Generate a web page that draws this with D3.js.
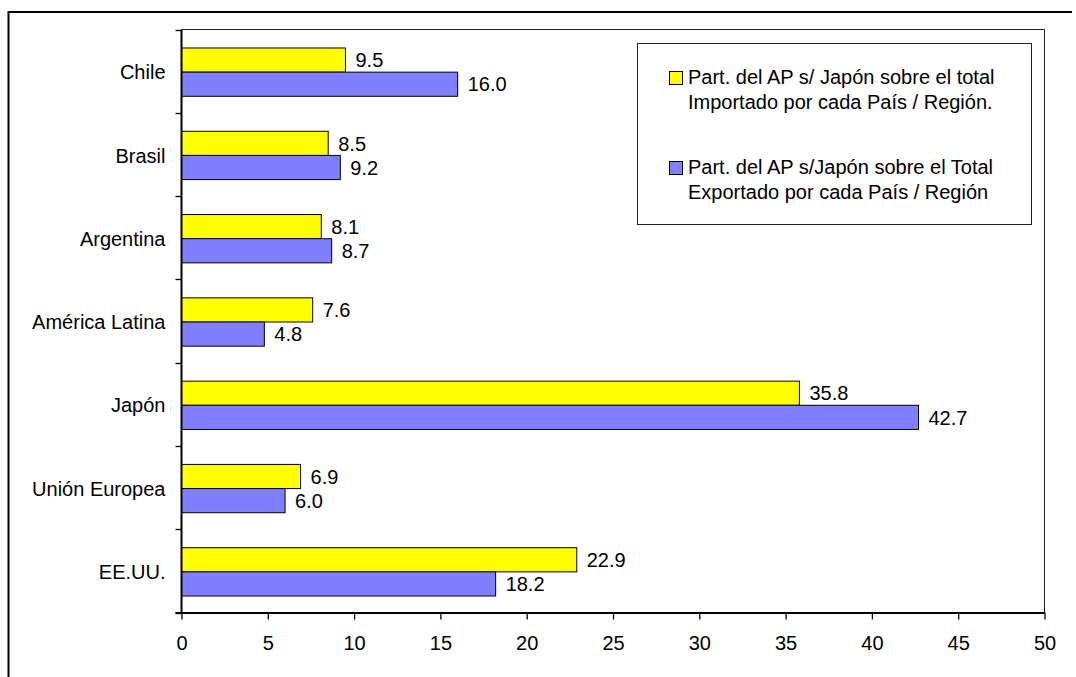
<!DOCTYPE html>
<html>
<head>
<meta charset="utf-8">
<script src="https://cdn.jsdelivr.net/npm/d3@7"></script>
<style>
  html, body { margin: 0; padding: 0; background: #fff; }
  svg { display: block; }
  text { font-family: "Liberation Sans", Arial, sans-serif; fill: #000; }
</style>
</head>
<body>
<script>
// Categories (top to bottom) and the two series, in percent
const categories = ["Chile", "Brasil", "Argentina", "América Latina", "Japón", "Unión Europea", "EE.UU."];
const importado = [9.5, 8.5, 8.1, 7.6, 35.8, 6.9, 22.9];
const exportado = [16.0, 9.2, 8.7, 4.8, 42.7, 6.0, 18.2];
const xTicks = [0, 5, 10, 15, 20, 25, 30, 35, 40, 45, 50];
const seriesNames = [
  ["Part. del AP s/ Japón sobre el total", "Importado por cada País / Región."],
  ["Part. del AP s/Japón sobre el Total", "Exportado por cada País / Región"]
];
const seriesKeys = ["imp", "exp"];
const colors = { imp: "#FFFF00", exp: "#8080FF" };

const W = 1076, H = 677;
const FS = 20;
const plot = { left: 181.5, right: 1044.5, top: 29.5, bottom: 612.5 };

const rows = categories.map((c, i) => ({ cat: c, imp: importado[i], exp: exportado[i] }));

const svg = d3.select("body").append("svg").attr("width", W).attr("height", H);

// Outer frame (open on the right/bottom where the page ends)
svg.append("path")
  .attr("d", `M1072,12 H8.5 V${H + 5}`)
  .attr("fill", "none").attr("stroke", "#000").attr("stroke-width", 2);

const x = d3.scaleLinear().domain([0, 50]).range([plot.left, plot.right]);
const y = d3.scaleBand().domain(categories).range([plot.top, plot.bottom]).paddingInner(0).paddingOuter(0);
const bandH = y.bandwidth();
const barH = bandH * 0.29;

// Plot area top and right border
svg.append("path")
  .attr("d", `M${plot.left},${plot.top} H${plot.right} V${plot.bottom}`)
  .attr("fill", "none").attr("stroke", "#222").attr("stroke-width", 1);

// Bars
const groups = svg.append("g").selectAll("g").data(rows).join("g")
  .attr("transform", d => `translate(0,${y(d.cat) + bandH / 2 - barH + 1})`);

seriesKeys.forEach((k, si) => {
  groups.append("rect")
    .attr("x", x(0))
    .attr("y", si * barH)
    .attr("width", d => x(d[k]) - x(0))
    .attr("height", barH)
    .attr("fill", colors[k])
    .attr("stroke", "#000").attr("stroke-width", 1);

  groups.append("text")
    .attr("x", d => x(d[k]) + 10)
    .attr("y", si * barH + barH / 2)
    .attr("dy", "0.36em")
    .attr("font-size", FS)
    .text(d => d[k].toFixed(1));
});

// X axis
const xAxis = svg.append("g")
  .attr("transform", `translate(0,${plot.bottom})`)
  .call(d3.axisBottom(x).tickValues(xTicks).tickSize(7).tickPadding(0).tickFormat(d3.format("d")));
xAxis.select(".domain").attr("stroke", "#000").attr("stroke-width", 2)
  .attr("d", `M${plot.left - 6},0.5H${plot.right}`);
xAxis.selectAll(".tick line").attr("stroke", "#000").attr("stroke-width", 1.3);
xAxis.selectAll(".tick text")
  .attr("font-size", FS).attr("font-family", "'Liberation Sans', Arial, sans-serif")
  .attr("fill", "#000").attr("y", 37.5).attr("dy", 0);

// Y axis line with boundary ticks between categories
const yAxis = svg.append("g");
yAxis.append("line")
  .attr("x1", plot.left).attr("x2", plot.left)
  .attr("y1", plot.top).attr("y2", plot.bottom)
  .attr("stroke", "#000").attr("stroke-width", 2);
const bounds = categories.map(c => y(c)).concat([plot.bottom]);
yAxis.selectAll("line.bt").data(bounds).join("line")
  .attr("class", "bt")
  .attr("x1", plot.left - 6).attr("x2", plot.left)
  .attr("y1", d => Math.round(d) + 0.5).attr("y2", d => Math.round(d) + 0.5)
  .attr("stroke", "#000").attr("stroke-width", 1.3);

yAxis.selectAll("text").data(categories).join("text")
  .attr("x", plot.left - 16)
  .attr("y", d => y(d) + bandH / 2 + 1)
  .attr("dy", "0.36em")
  .attr("text-anchor", "end")
  .attr("font-size", FS)
  .text(d => d);

// Legend
const lg = svg.append("g");
lg.append("rect")
  .attr("x", 637.5).attr("y", 43.5).attr("width", 394).attr("height", 181)
  .attr("fill", "#fff").attr("stroke", "#222").attr("stroke-width", 1);

const entryTop = [71.5, 161.5];
seriesKeys.forEach((k, i) => {
  lg.append("rect")
    .attr("x", 669.5).attr("y", entryTop[i]).attr("width", 13).attr("height", 13)
    .attr("fill", colors[k]).attr("stroke", "#000").attr("stroke-width", 1);
  const t = lg.append("text").attr("font-size", FS);
  seriesNames[i].forEach((line, j) => {
    t.append("tspan").attr("x", 688).attr("y", entryTop[i] + 12 + j * 25.5).text(line);
  });
});
</script>
</body>
</html>
